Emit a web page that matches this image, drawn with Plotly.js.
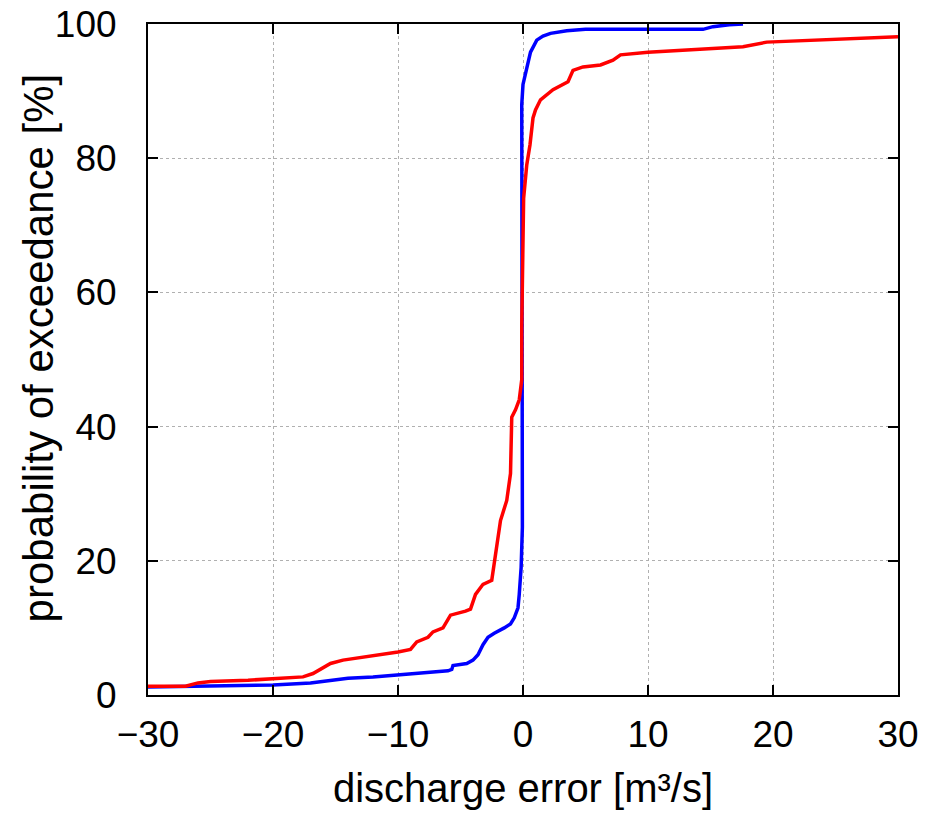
<!DOCTYPE html>
<html>
<head>
<meta charset="utf-8">
<script src="https://cdn.plot.ly/plotly-3.0.1.min.js"></script>
<style>html,body{margin:0;padding:0;background:#fff;}#chart{width:930px;height:820px;}</style>
</head>
<body>
<div id="chart"></div>
<script>
// Blue series: discharge error [m3/s] vs probability of exceedance [%]
const blueX = [-30, -26, -22, -20, -17, -15, -14, -12, -10, -8, -6, -5.7, -5.6, -4.5, -4, -3.6, -3.2, -2.8, -2.3, -1.5, -1.0, -0.7, -0.4, -0.3, -0.15, -0.05, -0.05, -0.1, -0.1, 0, 0.3, 0.6, 1.1, 1.6, 2.2, 3.5, 5, 10, 14.4, 15.2, 16.5, 17.6];
const blueY = [1.2, 1.3, 1.4, 1.5, 1.8, 2.2, 2.5, 2.7, 3.0, 3.3, 3.6, 3.8, 4.4, 4.7, 5.2, 6.0, 7.5, 8.6, 9.2, 10.0, 10.6, 11.5, 13, 15, 19, 25, 60, 74, 88, 91, 93.6, 95.8, 97.6, 98.2, 98.6, 99.0, 99.2, 99.2, 99.2, 99.6, 99.9, 100];
// Red series
const redX = [-30, -27, -26, -25, -22, -20, -17.6, -16.8, -16, -15.4, -14.4, -12, -10, -9, -8.5, -7.6, -7.2, -6.4, -5.8, -4.6, -4.2, -3.8, -3.2, -2.5, -2.2, -1.8, -1.3, -1.0, -0.9, -0.6, -0.3, -0.1, -0.1, 0, 0.05, 0.3, 0.56, 0.8, 1.0, 1.4, 2.4, 3.6, 4.0, 4.8, 6.2, 7.2, 7.8, 10, 14, 17.6, 19.5, 25, 30];
const redY = [1.3, 1.3, 1.8, 2.0, 2.2, 2.4, 2.7, 3.2, 4.0, 4.7, 5.2, 5.8, 6.4, 6.8, 7.9, 8.6, 9.4, 10, 11.9, 12.5, 12.8, 15, 16.5, 17.1, 21.2, 26, 29, 33, 41.4, 42.5, 44, 47, 55, 65, 74, 79, 82, 86, 87.2, 88.7, 90.2, 91.4, 93.1, 93.6, 93.9, 94.6, 95.4, 95.8, 96.2, 96.6, 97.3, 97.7, 98.1];

const xTicks = [-30, -20, -10, 0, 10, 20, 30];
const xTickText = ['\u221230', '\u221220', '\u221210', '0', '10', '20', '30'];
const yTicks = [0, 20, 40, 60, 80, 100];
const xTitle = 'discharge error [m\u00b3/s]';
const yTitle = 'probability of exceedance [%]';

const font = 'Liberation Sans, Arial, Helvetica, sans-serif';

const traces = [
  {x: blueX, y: blueY, mode: 'lines', line: {color: '#0000ff', width: 3.5}, hoverinfo: 'skip'},
  {x: redX, y: redY, mode: 'lines', line: {color: '#ff0000', width: 3.5}, hoverinfo: 'skip'}
];

const axisCommon = {
  showline: true, linecolor: '#000', linewidth: 2, mirror: 'ticks',
  ticks: 'inside', ticklen: 10, tickwidth: 2, tickcolor: '#000',
  showgrid: true, gridcolor: '#b0b0b0', gridwidth: 1, griddash: 'dot',
  zeroline: false,
  tickfont: {family: font, size: 37, color: '#000'}
};

const layout = {
  width: 930, height: 820,
  margin: {l: 148, r: 32, t: 24, b: 125},
  paper_bgcolor: '#fff', plot_bgcolor: '#fff',
  showlegend: false,
  xaxis: Object.assign({}, axisCommon, {
    range: [-30, 30], tickmode: 'array', tickvals: xTicks, ticktext: xTickText,
    ticklabelstandoff: 6,
    title: {text: xTitle, font: {family: font, size: 40, color: '#000'}, standoff: 20}
  }),
  yaxis: Object.assign({}, axisCommon, {
    range: [0, 100], tickmode: 'array', tickvals: yTicks,
    ticklabelstandoff: 22
  }),
  annotations: [{
    text: yTitle, xref: 'paper', yref: 'paper', x: -0.1467, y: 0.518,
    xanchor: 'center', yanchor: 'middle', textangle: -90, showarrow: false,
    font: {family: font, size: 42, color: '#000'}
  }]
};

Plotly.newPlot('chart', traces, layout, {displayModeBar: false, staticPlot: true});
</script>
</body>
</html>
